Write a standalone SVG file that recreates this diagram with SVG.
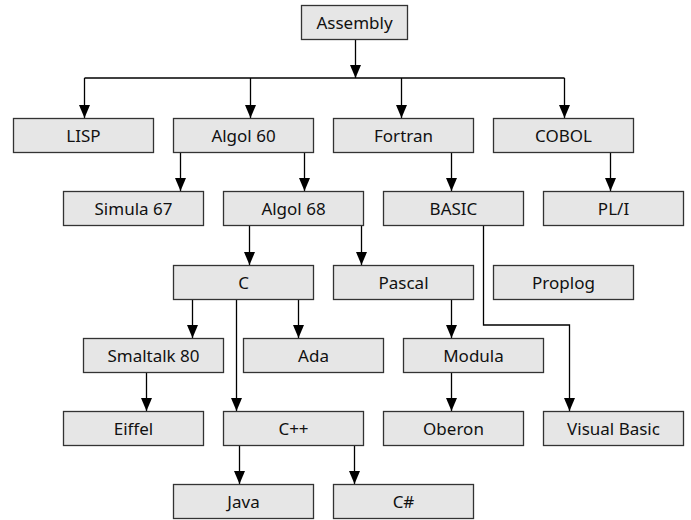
<svg xmlns="http://www.w3.org/2000/svg" width="691" height="520" viewBox="0 0 691 520">
<style>
.n rect{fill:#e6e6e6;stroke:#333;stroke-width:1.3}
.n text{font-family:"Noto Sans","Open Sans",sans-serif;font-size:17px;fill:#111;text-anchor:middle}
.c path{fill:none;stroke:#000;stroke-width:1.3}
</style>
<defs>
<marker id="a" viewBox="0 0 13 11" refX="13" refY="5.5" markerWidth="13" markerHeight="11" orient="auto" markerUnits="userSpaceOnUse"><path d="M0,0 L13,5.5 L0,11 z" fill="#000"/></marker>
</defs>
<g class="c">
<path d="M355.5,40 V78" marker-end="url(#a)"/>
<path d="M84.5,78 H564.5"/>
<path d="M84.5,78 V118" marker-end="url(#a)"/>
<path d="M250.5,78 V118" marker-end="url(#a)"/>
<path d="M401.5,78 V118" marker-end="url(#a)"/>
<path d="M564.5,78 V118" marker-end="url(#a)"/>
<path d="M180.5,152 V191" marker-end="url(#a)"/>
<path d="M304.5,152 V191" marker-end="url(#a)"/>
<path d="M451.5,152 V191" marker-end="url(#a)"/>
<path d="M610.5,152 V191" marker-end="url(#a)"/>
<path d="M249.5,225 V265" marker-end="url(#a)"/>
<path d="M361.5,225 V265" marker-end="url(#a)"/>
<path d="M483.5,225 V325 H569.5 V411" marker-end="url(#a)"/>
<path d="M192.5,299 V338" marker-end="url(#a)"/>
<path d="M236.5,299 V411" marker-end="url(#a)"/>
<path d="M298.5,299 V338" marker-end="url(#a)"/>
<path d="M451.5,299 V338" marker-end="url(#a)"/>
<path d="M146.5,372 V411" marker-end="url(#a)"/>
<path d="M451.5,372 V411" marker-end="url(#a)"/>
<path d="M239.5,445 V484" marker-end="url(#a)"/>
<path d="M354.5,445 V484" marker-end="url(#a)"/>
</g>
<g id="assembly" class="n"><rect x="301.5" y="5.5" width="106" height="34"/><text x="354.5" y="28.5">Assembly</text></g>
<g id="lisp" class="n"><rect x="13.5" y="118.5" width="140" height="34"/><text x="83.5" y="141.5">LISP</text></g>
<g id="algol60" class="n"><rect x="173.5" y="118.5" width="140" height="34"/><text x="243.5" y="141.5">Algol 60</text></g>
<g id="fortran" class="n"><rect x="333.5" y="118.5" width="140" height="34"/><text x="403.5" y="141.5">Fortran</text></g>
<g id="cobol" class="n"><rect x="493.5" y="118.5" width="140" height="34"/><text x="563.5" y="141.5">COBOL</text></g>
<g id="simula67" class="n"><rect x="63.5" y="191.5" width="140" height="34"/><text x="133.5" y="214.5">Simula 67</text></g>
<g id="algol68" class="n"><rect x="223.5" y="191.5" width="140" height="34"/><text x="293.5" y="214.5">Algol 68</text></g>
<g id="basic" class="n"><rect x="383.5" y="191.5" width="140" height="34"/><text x="453.5" y="214.5">BASIC</text></g>
<g id="pli" class="n"><rect x="543.5" y="191.5" width="140" height="34"/><text x="613.5" y="214.5">PL/I</text></g>
<g id="c" class="n"><rect x="173.5" y="265.5" width="140" height="34"/><text x="243.5" y="288.5">C</text></g>
<g id="pascal" class="n"><rect x="333.5" y="265.5" width="140" height="34"/><text x="403.5" y="288.5">Pascal</text></g>
<g id="proplog" class="n"><rect x="493.5" y="265.5" width="140" height="34"/><text x="563.5" y="288.5">Proplog</text></g>
<g id="smalltalk80" class="n"><rect x="83.5" y="338.5" width="140" height="34"/><text x="153.5" y="361.5">Smaltalk 80</text></g>
<g id="ada" class="n"><rect x="243.5" y="338.5" width="140" height="34"/><text x="313.5" y="361.5">Ada</text></g>
<g id="modula" class="n"><rect x="403.5" y="338.5" width="140" height="34"/><text x="473.5" y="361.5">Modula</text></g>
<g id="eiffel" class="n"><rect x="63.5" y="411.5" width="140" height="34"/><text x="133.5" y="434.5">Eiffel</text></g>
<g id="cpp" class="n"><rect x="223.5" y="411.5" width="140" height="34"/><text x="293.5" y="434.5">C++</text></g>
<g id="oberon" class="n"><rect x="383.5" y="411.5" width="140" height="34"/><text x="453.5" y="434.5">Oberon</text></g>
<g id="visualbasic" class="n"><rect x="543.5" y="411.5" width="140" height="34"/><text x="613.5" y="434.5">Visual Basic</text></g>
<g id="java" class="n"><rect x="173.5" y="484.5" width="140" height="34"/><text x="243.5" y="507.5">Java</text></g>
<g id="csharp" class="n"><rect x="333.5" y="484.5" width="140" height="34"/><text x="403.5" y="507.5">C#</text></g>
</svg>
